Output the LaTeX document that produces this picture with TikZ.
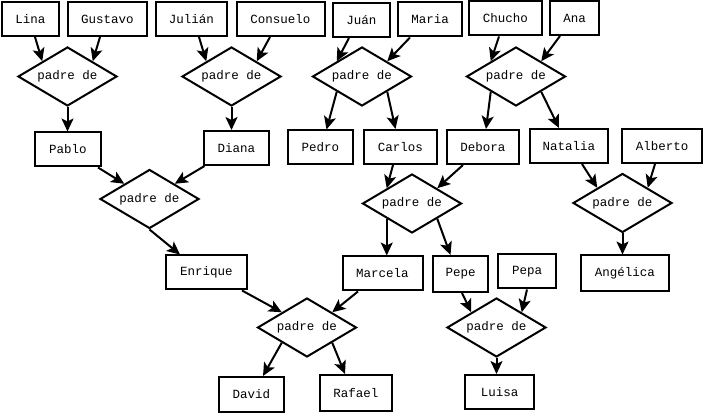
\documentclass[tikz,border=0pt]{standalone}
\usepackage{fontspec}
\setmonofont{Liberation Mono}
\usetikzlibrary{shapes.geometric,arrows.meta,calc}
\tikzset{
  box/.style={draw, line width=2pt, minimum height=34pt, inner sep=0pt, font=\ttfamily\fontsize{12.5}{14}\selectfont},
  rel/.style={draw, diamond, line width=2pt, inner sep=0pt, minimum width=99pt, minimum height=59pt, shape aspect=1.65, font=\ttfamily\fontsize{12.5}{14}\selectfont},
  arr/.style={line width=2pt, -{Stealth[length=13pt, width=12pt, inset=3pt]}}
}
\begin{document}
\begin{tikzpicture}[x=1pt,y=-1pt]
\useasboundingbox (0,0) rectangle (705,414);
% row 1 boxes
\node[box, minimum width=57pt] (lina) at (30.5,19) {Lina};
\node[box, minimum width=79pt] (gustavo) at (107.5,19) {Gustavo};
\node[box, minimum width=71pt] (julian) at (191.5,19) {Julián};
\node[box, minimum width=88pt] (consuelo) at (280.5,19) {Consuelo};
\node[box, minimum width=57pt] (juan) at (361.5,20) {Juán};
\node[box, minimum width=64pt] (maria) at (430,19.5) {Maria};
\node[box, minimum width=73pt] (chucho) at (505.5,18.5) {Chucho};
\node[box, minimum width=49pt] (ana) at (574.5,18) {Ana};
% row 1 diamonds
\node[rel] (d1) at (67.5,76.5) {padre de};
\node[rel] (d2) at (231.5,76.5) {padre de};
\node[rel] (d3) at (362,76.5) {padre de};
\node[rel] (d4) at (516,76.5) {padre de};
% row 2 boxes
\node[box, minimum width=66pt] (pablo) at (68,149.5) {Pablo};
\node[box, minimum width=65pt] (diana) at (236.5,148) {Diana};
\node[box, minimum width=65pt] (pedro) at (320.5,147.5) {Pedro};
\node[box, minimum width=73pt] (carlos) at (400.5,147) {Carlos};
\node[box, minimum width=72pt] (debora) at (483,147) {Debora};
\node[box, minimum width=78pt] (natalia) at (569,146) {Natalia};
\node[box, minimum width=80pt] (alberto) at (662,146) {Alberto};
% row 2 diamonds
\node[rel] (d5) at (149.5,199) {padre de};
\node[rel] (d6) at (412,203.5) {padre de};
\node[rel] (d7) at (622.5,203) {padre de};
% row 3 boxes
\node[box, minimum width=81pt] (enrique) at (206.5,272.5) {Enrique};
\node[box, minimum width=80pt] (marcela) at (382.5,273.5) {Marcela};
\node[box, minimum width=55pt, minimum height=36pt] (pepe) at (460.5,274) {Pepe};
\node[box, minimum width=58pt] (pepa) at (527,271.5) {Pepa};
\node[box, minimum width=88pt, minimum height=36pt] (angelica) at (625,273.5) {Angélica};
% row 3 diamonds
\node[rel] (d8) at (307,327.5) {padre de};
\node[rel] (d9) at (496.5,327.5) {padre de};
% row 4 boxes
\node[box, minimum width=65pt, minimum height=35pt] (david) at (251.5,394.5) {David};
\node[box, minimum width=72pt, minimum height=36pt] (rafael) at (356,393) {Rafael};
\node[box, minimum width=69pt] (luisa) at (499.5,392) {Luisa};
% connectors row 1
\draw[arr] ($(lina.south)+(4.5,0)$) -- (d1.north west);
\draw[arr] ($(gustavo.south)+(-7.5,0)$) -- (d1.north east);
\draw[arr] ($(julian.south)+(7.5,0)$) -- (d2.north west);
\draw[arr] ($(consuelo.south)+(-10.5,0)$) -- (d2.north east);
\draw[arr] ($(juan.south)+(-12.5,0)$) -- (d3.north west);
\draw[arr] ($(maria.south)+(-20,0)$) -- (d3.north east);
\draw[arr] ($(chucho.south)+(-6.5,0)$) -- (d4.north west);
\draw[arr] ($(ana.south)+(-14.5,0)$) -- (d4.north east);
\draw[arr] (d1.south) -- (d1.south |- pablo.north);
\draw[arr] (d2.south) -- (d2.south |- diana.north);
\draw[arr] (d3.south west) -- ($(pedro.north)+(6,0)$);
\draw[arr] (d3.south east) -- ($(carlos.north)+(-5,0)$);
\draw[arr] (d4.south west) -- ($(debora.north)+(3,0)$);
\draw[arr] (d4.south east) -- ($(natalia.north)+(-10,0)$);
% connectors row 2
\draw[arr] ($(pablo.south)+(30,0)$) -- (d5.north west);
\draw[arr] ($(diana.south)+(-32,0)$) -- (d5.north east);
\draw[arr] (d5.south) -- ($(enrique.north)+(-26.5,0)$);
\draw[arr] ($(carlos.south)+(-7.5,0)$) -- (d6.north west);
\draw[arr] ($(debora.south)+(-20,0)$) -- (d6.north east);
\draw[arr] (d6.south west) -- (d6.south west |- marcela.north);
\draw[arr] (d6.south east) -- ($(pepe.north)+(-10,0)$);
\draw[arr] ($(natalia.south)+(13,0)$) -- (d7.north west);
\draw[arr] ($(alberto.south)+(-7,0)$) -- (d7.north east);
\draw[arr] (d7.south) -- (d7.south |- angelica.north);
% connectors row 3
\draw[arr] ($(enrique.south)+(35.5,0)$) -- (d8.north west);
\draw[arr] ($(marcela.south)+(-24.5,0)$) -- (d8.north east);
\draw[arr] (d8.south west) -- ($(david.north)+(11.5,0)$);
\draw[arr] (d8.south east) -- ($(rafael.north)+(-11,0)$);
\draw[arr] ($(pepe.south)+(1.5,0)$) -- (d9.north west);
\draw[arr] (pepa.south) -- (d9.north east);
\draw[arr] (d9.south) -- (d9.south |- luisa.north);
\end{tikzpicture}
\end{document}
